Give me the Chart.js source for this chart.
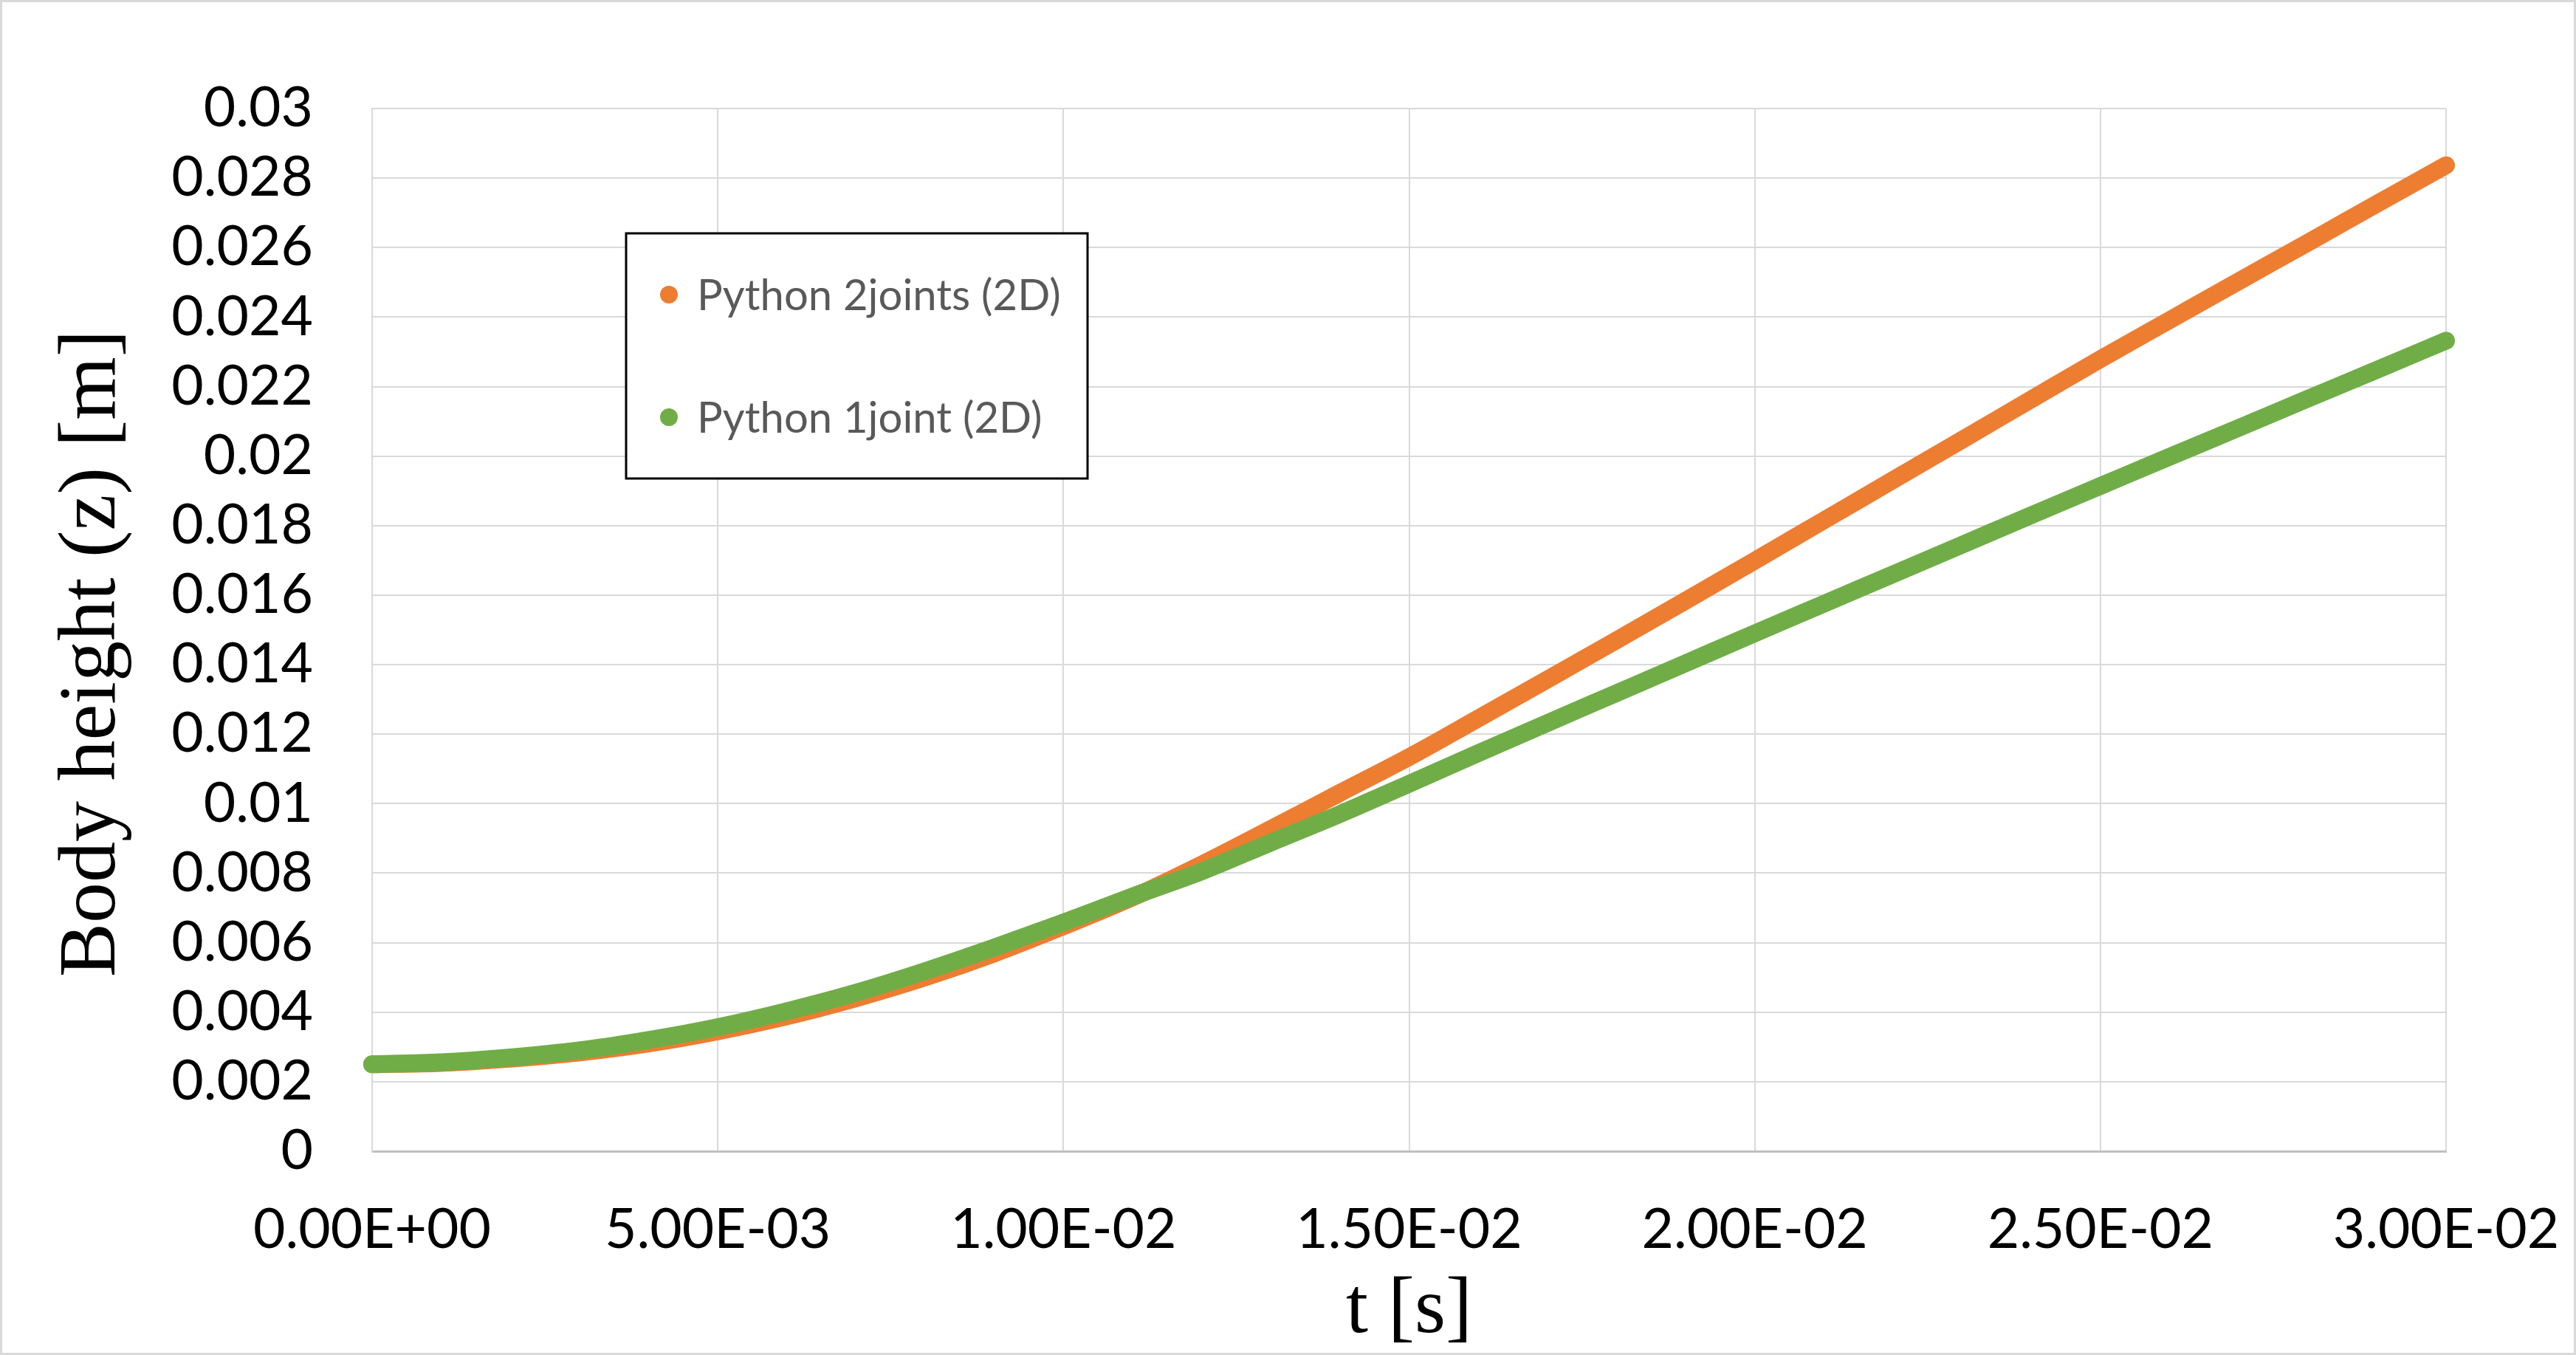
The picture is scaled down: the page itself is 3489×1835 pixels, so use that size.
<!DOCTYPE html>
<html>
<head>
<meta charset="utf-8">
<title>Body height vs time</title>
<script src="https://cdn.jsdelivr.net/npm/chart.js@4.4.1/dist/chart.umd.min.js"></script>
<style>
  html, body { margin: 0; padding: 0; background: #fff; }
  #wrap { width: 3489px; height: 1835px; position: relative; }
</style>
</head>
<body>
<div id="wrap"><canvas id="heightChart"></canvas></div>
<script>
// Values: t in s, body height z in m
const timeValues = [
  0, 0.001, 0.002, 0.003, 0.004, 0.005, 0.006, 0.007, 0.008, 0.009, 0.010,
  0.011, 0.012, 0.013, 0.014, 0.015, 0.016, 0.017, 0.018, 0.019, 0.020,
  0.021, 0.022, 0.023, 0.024, 0.025, 0.026, 0.027, 0.028, 0.029, 0.030
];
const z2joints = [
  0.00250, 0.00254, 0.00266, 0.00284, 0.00310, 0.00345, 0.00388, 0.00440, 0.00500, 0.00569, 0.00647,
  0.00730, 0.00825, 0.00927, 0.01031, 0.01134, 0.01245, 0.01357, 0.01470, 0.01584, 0.01699,
  0.01815, 0.01931, 0.02047, 0.02163, 0.02279, 0.02391, 0.02503, 0.02614, 0.02726, 0.02837
];
const z1joint = [
  0.00250, 0.00256, 0.00270, 0.00290, 0.00320, 0.00357, 0.00403, 0.00456, 0.00518, 0.00586, 0.00658,
  0.00733, 0.00805, 0.00888, 0.00970, 0.01057, 0.01145, 0.01232, 0.01318, 0.01404, 0.01490,
  0.01575, 0.01660, 0.01745, 0.01830, 0.01914, 0.01998, 0.02081, 0.02165, 0.02248, 0.02332
];
const seriesNames = ['Python 2joints (2D)', 'Python 1joint (2D)'];
const seriesColors = ['#ED7D31', '#70AD47'];
const xTickLabels = ['0.00E+00', '5.00E-03', '1.00E-02', '1.50E-02', '2.00E-02', '2.50E-02', '3.00E-02'];
const yTickLabels = ['0', '0.002', '0.004', '0.006', '0.008', '0.01', '0.012', '0.014', '0.016',
  '0.018', '0.02', '0.022', '0.024', '0.026', '0.028', '0.03'];
const yAxisTitle = 'Body height (z) [m]';

const toPoints = (ys) => timeValues.map((t, i) => ({ x: t, y: ys[i] }));

// white page with thin grey frame
const chartFrame = {
  id: 'chartFrame',
  beforeDraw(chart) {
    const { ctx, width, height } = chart;
    ctx.save();
    ctx.fillStyle = '#fff';
    ctx.fillRect(0, 0, width, height);
    ctx.strokeStyle = '#D9D9D9';
    ctx.lineWidth = 3;
    ctx.strokeRect(1.5, 1.5, width - 3, height - 3);
    ctx.restore();
  }
};

// vertical axis title, sits a little below the plot centre like the original
const yTitle = {
  id: 'yTitle',
  afterDraw(chart) {
    const { ctx, chartArea } = chart;
    ctx.save();
    ctx.translate(126, (chartArea.top + chartArea.bottom) / 2 + 32);
    ctx.rotate(-Math.PI / 2);
    ctx.font = '110px "Liberation Serif"';
    ctx.fillStyle = '#000';
    ctx.textAlign = 'center';
    ctx.textBaseline = 'middle';
    ctx.fillText(yAxisTitle, 0, 0);
    ctx.restore();
  }
};

// boxed legend sitting inside the plot area
const boxLegend = {
  id: 'boxLegend',
  afterDraw(chart) {
    const { ctx, chartArea } = chart;
    const x = chartArea.left + 344, y = chartArea.top + 169, w = 625, h = 332;
    ctx.save();
    ctx.fillStyle = '#fff';
    ctx.fillRect(x, y, w, h);
    ctx.lineWidth = 3;
    ctx.strokeStyle = '#000';
    ctx.strokeRect(x, y, w, h);
    ctx.font = '58px Lato';
    ctx.textBaseline = 'middle';
    chart.data.datasets.forEach((ds, i) => {
      const cy = y + 83 + i * 166;
      ctx.beginPath();
      ctx.arc(x + 58, cy, 12, 0, Math.PI * 2);
      ctx.fillStyle = ds.borderColor;
      ctx.fill();
      ctx.fillStyle = '#595959';
      ctx.fillText(ds.label, x + 96, cy + 2);
    });
    ctx.restore();
  }
};

const ctx = document.getElementById('heightChart').getContext('2d');
new Chart(ctx, {
  type: 'scatter',
  data: {
    datasets: [
      {
        label: seriesNames[0],
        data: toPoints(z2joints),
        borderColor: seriesColors[0],
        backgroundColor: seriesColors[0],
        order: 2
      },
      {
        label: seriesNames[1],
        data: toPoints(z1joint),
        borderColor: seriesColors[1],
        backgroundColor: seriesColors[1],
        order: 1
      }
    ]
  },
  options: {
    responsive: true,
    maintainAspectRatio: false,
    devicePixelRatio: 1,
    animation: false,
    layout: { padding: { top: 147, right: 176, left: 0, bottom: 0 } },
    datasets: {
      scatter: {
        showLine: true,
        borderWidth: 24,
        borderCapStyle: 'round',
        borderJoinStyle: 'round',
        pointRadius: 0,
        pointHoverRadius: 0,
        cubicInterpolationMode: 'monotone',
        clip: false
      }
    },
    plugins: {
      legend: { display: false },
      tooltip: { enabled: false }
    },
    scales: {
      x: {
        type: 'linear',
        min: 0,
        max: 0.03,
        afterFit: (scale) => {
          scale.height = 276;
          scale.paddingLeft = 0;
          scale.paddingRight = 0;
        },
        ticks: {
          stepSize: 0.005,
          autoSkip: false,
          maxRotation: 0,
          padding: 62,
          color: '#000',
          font: { family: 'Lato', size: 75 },
          callback: (value, index) => xTickLabels[index]
        },
        grid: { color: '#D9D9D9', lineWidth: 2, drawTicks: false },
        border: { color: '#BFBFBF', width: 3 },
        title: {
          display: true,
          text: 't [s]',
          color: '#000',
          font: { family: 'Liberation Serif', size: 108, lineHeight: 1 },
          padding: { top: 0, bottom: 5 }
        }
      },
      y: {
        type: 'linear',
        min: 0,
        max: 0.03,
        afterFit: (scale) => {
          scale.width = 504;
          scale.paddingTop = 0;
          scale.paddingBottom = 0;
        },
        ticks: {
          stepSize: 0.002,
          autoSkip: false,
          padding: 80,
          color: '#000',
          font: { family: 'Lato', size: 75 },
          callback: (value, index) => yTickLabels[index]
        },
        grid: {
          color: (c) => c.index === 0 ? '#BFBFBF' : '#D9D9D9',
          lineWidth: (c) => c.index === 0 ? 3 : 2,
          drawTicks: false
        },
        border: { color: '#D9D9D9', width: 2 }
      }
    }
  },
  plugins: [chartFrame, yTitle, boxLegend]
});
</script>
</body>
</html>
